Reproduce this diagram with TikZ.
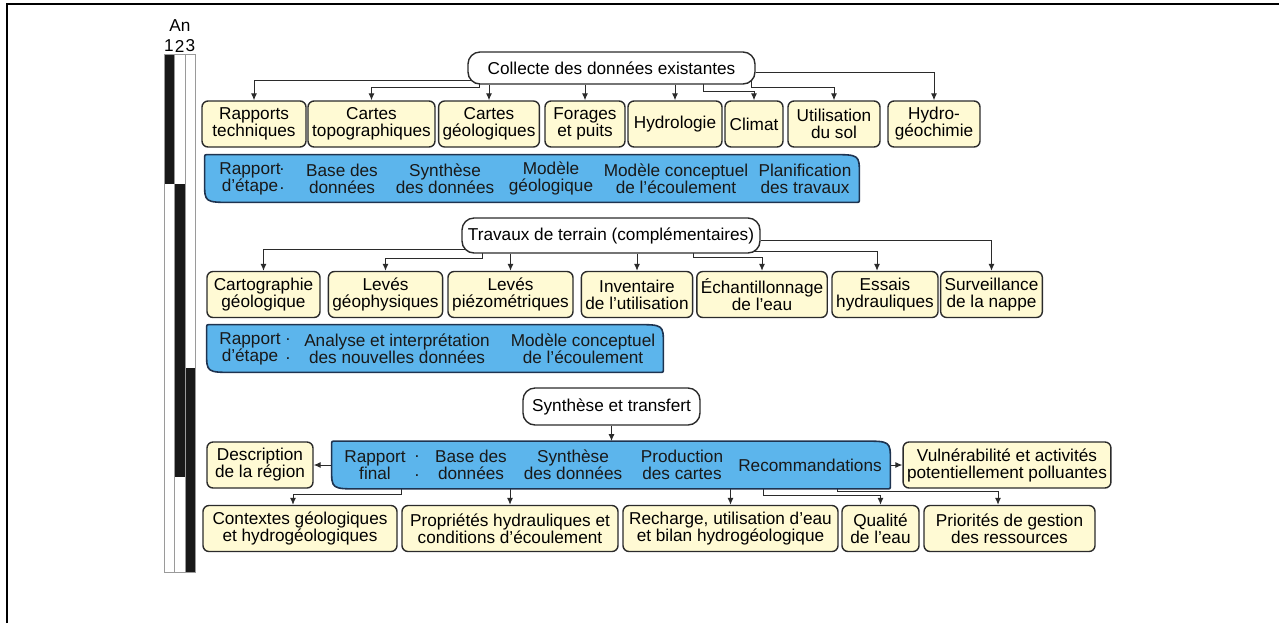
\documentclass[tikz,border=0pt]{standalone}
\usepackage{fontspec}
\setmainfont{Liberation Sans}
\usetikzlibrary{arrows.meta,positioning,backgrounds}
\definecolor{ink}{HTML}{2B2B2B}
\definecolor{cream}{HTML}{FFFAD4}
\definecolor{sky}{HTML}{5CB5EC}
\definecolor{navyline}{HTML}{1E3350}
\definecolor{railgray}{HTML}{9A9A9A}
\newcommand{\diagfont}{\fontsize{8.6}{8.5}\selectfont\lineskiplimit=-4pt\relax}
% blue report band: two swept corners (top right, bottom left)
\newcommand{\leafbox}[1]{%
  \draw[leaf] ([xshift=2pt]#1.north west) -- ([xshift=-14pt]#1.north east)
    .. controls (#1.north east) .. ([yshift=-10pt]#1.north east)
    -- ([yshift=2pt]#1.south east) .. controls (#1.south east) .. ([xshift=-2pt]#1.south east)
    -- ([xshift=14pt]#1.south west) .. controls (#1.south west) .. ([yshift=10pt]#1.south west)
    -- ([yshift=-2pt]#1.north west) .. controls (#1.north west) .. ([xshift=2pt]#1.north west) -- cycle;}

\begin{document}
\begin{tikzpicture}[
  x=0.5pt,y=-0.5pt,
  font=\diagfont,
  ybox/.style={draw=ink,fill=cream,rounded corners=3pt,line width=0.7pt,align=center,inner sep=2pt,minimum height=23pt},
  wbox/.style={draw=ink,fill=white,rounded corners=6pt,line width=0.7pt,inner sep=2pt},
  band/.style={inner sep=0pt,minimum height=23.5pt},
  leaf/.style={draw=navyline,fill=sky,line width=0.8pt},
  btxt/.style={align=center,inner sep=0pt,text=black!90},
  arr/.style={-{Latex[length=3.5pt,width=3pt]},draw=ink,line width=0.5pt},
]
\useasboundingbox (0,0) rectangle (1279,623);
\draw[line width=1.2pt] (7,623) -- (7,4) -- (1279,4);

% year bar
\node (an) at (180,26) {An};
\node (y1) at (169,46) {1};
\node (y2) at (179.6,46) {2};
\node (y3) at (190.3,46) {3};
\fill[black!90] (164,54) rectangle (174.3,184);
\fill[black!90] (174.3,184) rectangle (185,477);
\fill[black!90] (185,368) rectangle (195.7,572);
\draw[railgray,line width=0.4pt] (164,54) rectangle (195.7,572);
\draw[railgray,line width=0.4pt] (174.3,54) -- (174.3,572) (185,54) -- (185,572);

% --- collecte
\node[wbox,minimum width=143.5pt,minimum height=16pt] (collecte) at (611.5,68) {Collecte des données existantes};
\node[ybox,minimum width=52pt] (rapports) at (254,124) {Rapports\\techniques};
\node[ybox,minimum width=63.5pt] (topo) at (371.5,124) {Cartes\\topographiques};
\node[ybox,minimum width=49pt] (geol) at (489,124) {Cartes\\géologiques};
\node[ybox,minimum width=40pt] (forages) at (585,124) {Forages\\et puits};
\node[ybox,minimum width=47pt] (hydrol) at (675,124) {Hydrologie};
\node[ybox,minimum width=29pt] (climat) at (754,124) {Climat};
\node[ybox,minimum width=46pt] (sol) at (834,124) {Utilisation\\du sol};
\node[ybox,minimum width=46pt] (hydrogeo) at (934,124) {Hydro-\\géochimie};

\node[band,minimum width=327pt] (etape1) at (532,178.5) {};
\leafbox{etape1}
\node[btxt] (e1a) at (250,178.5) {Rapport\\d'étape};
\node[btxt] (e1b) at (282,179.5) {.\\[1pt].};
\node[btxt] (e1c) at (342,178.5) {Base des\\données};
\node[btxt] (e1d) at (445,178.5) {Synthèse\\des données};
\node[btxt] (e1e) at (551,178.5) {Modèle\\géologique};
\node[btxt] (e1f) at (676,178.5) {Modèle conceptuel\\de l'écoulement};
\node[btxt] (e1g) at (805,178.5) {Planification\\des travaux};

% --- travaux
\node[wbox,minimum width=149pt,minimum height=17.5pt,inner xsep=1pt] (travaux) at (611,235.5) {Travaux de terrain (complémentaires)};
\node[ybox,minimum width=56.5pt] (carto) at (263.5,294.5) {Cartographie\\géologique};
\node[ybox,minimum width=56.5pt] (geoph) at (385.5,294.5) {Levés\\géophysiques};
\node[ybox,minimum width=62.5pt] (piezo) at (510.5,294.5) {Levés\\piézométriques};
\node[ybox,minimum width=55pt] (invent) at (637,294.5) {Inventaire\\de l'utilisation};
\node[ybox,minimum width=65pt] (echant) at (762,294.5) {Échantillonnage\\de l'eau};
\node[ybox,minimum width=53pt] (essais) at (885,294.5) {Essais\\hydrauliques};
\node[ybox,minimum width=48.5pt] (surv) at (991.5,294.5) {Surveillance\\de la nappe};

\node[band,minimum width=228pt] (etape2) at (435,348.5) {};
\leafbox{etape2}
\node[btxt] (e2a) at (250,348.5) {Rapport\\d'étape};
\node[btxt] (e2b) at (288,349.5) {.\\[1pt].};
\node[btxt] (e2c) at (397,348.5) {Analyse et interprétation\\des nouvelles données};
\node[btxt] (e2d) at (583,348.5) {Modèle conceptuel\\de l'écoulement};

% --- synthese
\node[wbox,minimum width=88.5pt,minimum height=18.5pt] (synthese) at (611.5,406.5) {Synthèse et transfert};
\node[band,minimum width=279pt] (final) at (611,465) {};
\leafbox{final}
\node[btxt] (f1) at (375,465) {Rapport\\final};
\node[btxt] (f2) at (417,466) {.\\[1pt].};
\node[btxt] (f3) at (471,465) {Base des\\données};
\node[btxt] (f4) at (573,465) {Synthèse\\des données};
\node[btxt] (f5) at (682,465) {Production\\des cartes};
\node[btxt] (f6) at (810,465) {Recommandations};
\node[ybox,minimum width=53pt] (desc) at (260,465) {Description\\de la région};
\node[ybox,minimum width=101pt] (vuln) at (1007,465) {Vulnérabilité et activités\\potentiellement polluantes};

\node[ybox,minimum width=97pt] (contextes) at (300,528.5) {Contextes géologiques\\et hydrogéologiques};
\node[ybox,minimum width=108pt] (propr) at (510,528.5) {Propriétés hydrauliques et\\conditions d'écoulement};
\node[ybox,minimum width=107.5pt] (recharge) at (730.5,528.5) {Recharge, utilisation d'eau\\et bilan hydrogéologique};
\node[ybox,minimum width=38.5pt] (qualite) at (880.5,528.5) {Qualité\\de l'eau};
\node[ybox,minimum width=85.5pt] (prio) at (1009.5,528.5) {Priorités de gestion\\des ressources};

\begin{scope}[on background layer]
% collecte -> sources
\draw[arr] ([yshift=-6pt]collecte.center) -| (rapports.north);
\draw[arr] ([xshift=6pt,yshift=3pt]collecte.south west) |- ([yshift=6.5pt]topo.north) -- (topo.north);
\draw[arr] (geol.north |- collecte.south) -- (geol.north);
\draw[arr] (forages.north |- collecte.south) -- (forages.north);
\draw[arr] (hydrol.north |- collecte.south) -- (hydrol.north);
\draw[arr] ([xshift=-26pt,yshift=3pt]collecte.south east) |- ([yshift=4.5pt]climat.north) -- (climat.north);
\draw[arr] ([xshift=-2pt,yshift=3pt]collecte.south east) |- ([yshift=6.5pt]sol.north) -- (sol.north);
\draw[arr] ([yshift=-2pt]collecte.east) -| (hydrogeo.north);
% travaux -> campagnes
\draw[arr] ([yshift=-6.75pt]travaux.center) -| (carto.north);
\draw[arr] ([xshift=10.5pt,yshift=3pt]travaux.south west) |- ([yshift=6pt]geoph.north) -- (geoph.north);
\draw[arr] (piezo.north |- travaux.south) -- (piezo.north);
\draw[arr] (invent.north |- travaux.south) -- (invent.north);
\draw[arr] ([xshift=-33.5pt,yshift=3pt]travaux.south east) |- ([yshift=6.5pt]echant.north) -- (echant.north);
\draw[arr] ([yshift=-8pt]travaux.center) -| ([xshift=-4pt]essais.north);
\draw[arr] ([yshift=-2.25pt]travaux.east) -| (surv.north);
% synthese -> rapport final
\draw[arr] (synthese.south) -- (final.north -| synthese.south);
\draw[arr] (final.west) -- (desc.east);
\draw[arr] (final.east) -- (vuln.west);
\draw[arr] ([xshift=35pt,yshift=2pt]final.south west) |- ([xshift=-3.5pt,yshift=5pt]contextes.north) -- ([xshift=-3.5pt]contextes.north);
\draw[arr] (propr.north |- final.south) -- (propr.north);
\draw[arr] (recharge.north |- final.south) -- (recharge.north);
\draw[arr] ([xshift=-63.5pt,yshift=2pt]final.south east) |- ([yshift=4.5pt]qualite.north) -- (qualite.north);
\draw[arr] ([xshift=-26.5pt,yshift=2pt]final.south east) |- ([xshift=-5.75pt,yshift=6.5pt]prio.north) -- ([xshift=-5.75pt]prio.north);
\end{scope}
\end{tikzpicture}
\end{document}
